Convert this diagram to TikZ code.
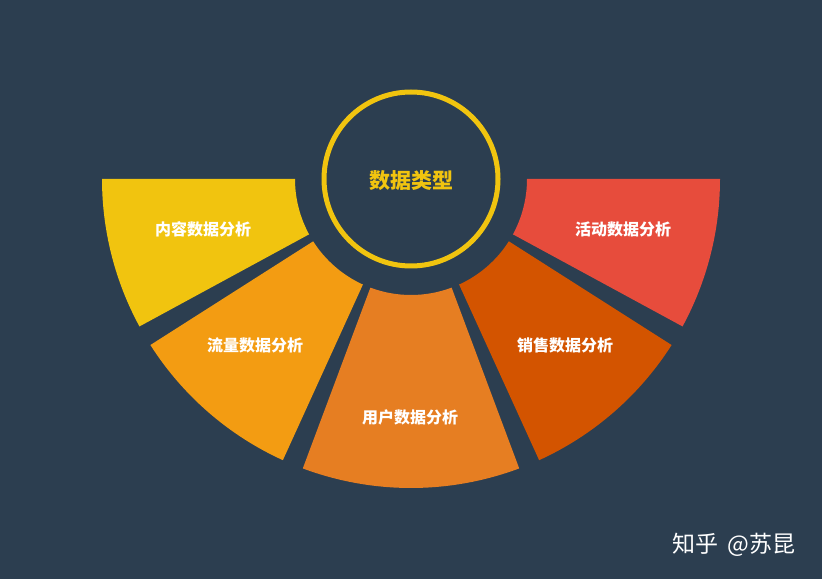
\documentclass[tikz,border=0pt]{standalone}
\usepackage{fontspec}
\newfontfamily\cjk{Noto Sans CJK SC}
\definecolor{night}{HTML}{2C3E50}
\definecolor{sunflower}{HTML}{F1C40F}
\definecolor{orangeA}{HTML}{F39C12}
\definecolor{carrot}{HTML}{E67E22}
\definecolor{pumpkin}{HTML}{D35400}
\definecolor{alizarin}{HTML}{E74C3C}
\tikzstyle{label} = [text=white, font={\cjk\bfseries\fontsize{16}{18}\selectfont}]
\tikzstyle{title} = [text=sunflower, font={\cjk\bfseries\fontsize{21}{24}\selectfont}]
\tikzstyle{ring} = [draw=sunflower, line width=5pt]
\begin{document}
\begin{tikzpicture}[x=1pt,y=1pt]
    \fill[night] (0,0) rectangle (822,579);
    \useasboundingbox (0,0) rectangle (822,579);
    \begin{scope}[shift={(411,400)}]
      \fill[sunflower] (180:309) arc[start angle=180, end angle=208.5, radius=309] -- (208.5:116) arc[start angle=208.5, end angle=180, radius=116] -- cycle;
      \fill[orangeA] (212.5:309) arc[start angle=212.5, end angle=245.5, radius=309] -- (245.5:116) arc[start angle=245.5, end angle=212.5, radius=116] -- cycle;
      \fill[carrot] (249.5:309) arc[start angle=249.5, end angle=290.5, radius=309] -- (290.5:116) arc[start angle=290.5, end angle=249.5, radius=116] -- cycle;
      \fill[pumpkin] (294.5:309) arc[start angle=294.5, end angle=327.5, radius=309] -- (327.5:116) arc[start angle=327.5, end angle=294.5, radius=116] -- cycle;
      \fill[alizarin] (331.5:309) arc[start angle=331.5, end angle=360, radius=309] -- (360:116) arc[start angle=360, end angle=331.5, radius=116] -- cycle;
      \node[ring, circle, minimum size=174pt](types) at (0,0){};
    \end{scope}
    \node[title](typestext) at (411,398){数据类型};
    \node[label](content) at (203,350){内容数据分析};
    \node[label](traffic) at (255,234){流量数据分析};
    \node[label](users) at (410,162){用户数据分析};
    \node[label](sales) at (565,234){销售数据分析};
    \node[label](events) at (623,350){活动数据分析};
    \node[text=white, font={\cjk\fontsize{23}{26}\selectfont}](mark) at (734,34){知乎\hspace{4pt} @苏昆};
  \end{tikzpicture}
\end{document}
